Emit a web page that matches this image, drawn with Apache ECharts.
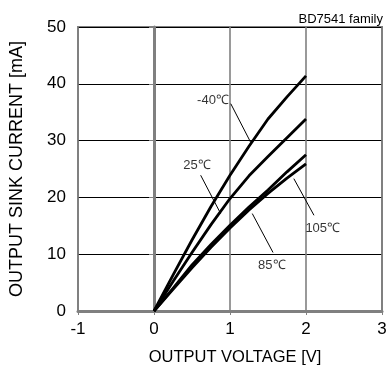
<!DOCTYPE html>
<html><head><meta charset="utf-8">
<script src="https://cdn.jsdelivr.net/npm/echarts@6/dist/echarts.min.js"></script>
<style>html,body{margin:0;padding:0;background:#fff}#c{width:390px;height:376px}</style>
</head><body><div id="c"></div>
<script>
const xVals = [0, 0.25, 0.5, 0.75, 1, 1.25, 1.5, 1.75, 2];
const curveNames = ['-40℃', '25℃', '85℃', '105℃'];
const iMinus40 = [0, 6.3, 12.5, 18.4, 23.9, 29.0, 33.8, 37.7, 41.4];
const i25 = [0, 5.2, 10.3, 15.2, 19.8, 23.8, 27.2, 30.5, 33.8];
const i85 = [0, 4.0, 8.1, 11.7, 15.1, 18.3, 21.3, 24.5, 27.5];
const i105 = [0, 3.8, 7.6, 11.2, 14.6, 17.8, 20.7, 23.4, 25.9];
const xTicks = [-1, 0, 1, 2, 3];
const yTicks = [0, 10, 20, 30, 40, 50];
// annotation text positions and leader lines in data coords
const labelPos = [[0.776, 37.1], [0.566, 25.6], [1.55, 8.1], [2.22, 14.6]];
const leaders = [
  [[1.01, 36.5], [1.27, 29.75]],
  [[0.614, 23.9], [0.877, 17.15]],
  [[1.293, 17.15], [1.566, 10.3]],
  [[1.84, 23.3], [2.105, 16.85]]
];
const curves = [iMinus40, i25, i85, i105];
const font = '"Liberation Sans", Arial, sans-serif';

const series = curves.map((arr, k) => ({
  type: 'line', name: curveNames[k], data: xVals.map((x, i) => [x, arr[i]]),
  smooth: false, symbol: 'none', lineStyle: {color: '#000', width: 2.8, join: 'round'}, z: 5,
  markLine: {silent: true, symbol: 'none', animation: false,
    lineStyle: {color: '#000', width: 1, type: 'solid'}, label: {show: false},
    data: [[{coord: leaders[k][0]}, {coord: leaders[k][1]}]]}
}));
series.push({
  type: 'scatter', symbolSize: 0, z: 6,
  data: labelPos.map((p, k) => ({value: p, name: curveNames[k]})),
  label: {show: true, position: 'inside', formatter: p => p.name, color: '#000', fontSize: 13, fontFamily: font}
});

const chart = echarts.init(document.getElementById('c'), null, {renderer: 'canvas'});
chart.setOption({
  animation: false,
  backgroundColor: '#fff',
  title: {text: 'BD7541 family', right: 2, top: 8, textStyle: {fontSize: 13, fontWeight: 'normal', color: '#000', fontFamily: font}},
  grid: {left: 78, right: 8, top: 27, bottom: 65, show: true, borderColor: '#808080', borderWidth: 2, backgroundColor: 'transparent'},
  xAxis: {type: 'value', min: xTicks[0], max: xTicks[xTicks.length - 1], interval: 1,
    name: 'OUTPUT VOLTAGE [V]', nameLocation: 'middle', nameGap: 38,
    nameTextStyle: {fontSize: 16.5, color: '#000', fontFamily: font, padding: [0, 0, 0, 10]},
    axisLine: {onZero: false, lineStyle: {color: '#808080', width: 3}},
    axisTick: {show: true, length: 4, lineStyle: {color: '#808080', width: 1}},
    axisLabel: {fontSize: 17, color: '#000', margin: 10, fontFamily: font},
    splitLine: {show: true, lineStyle: {color: '#808080', width: 1.6}}},
  yAxis: {type: 'value', min: yTicks[0], max: yTicks[yTicks.length - 1], interval: 10,
    name: 'OUTPUT SINK CURRENT [mA]', nameLocation: 'middle', nameGap: 52,
    nameTextStyle: {fontSize: 18, color: '#000', fontFamily: font},
    axisLine: {show: true, lineStyle: {color: '#808080', width: 3}},
    axisTick: {show: true, length: 5, lineStyle: {color: '#808080', width: 1}},
    axisLabel: {fontSize: 17, color: '#000', margin: 12, fontFamily: font},
    splitLine: {show: true, lineStyle: {color: '#000', width: 1}}},
  series: series
});
</script></body></html>
